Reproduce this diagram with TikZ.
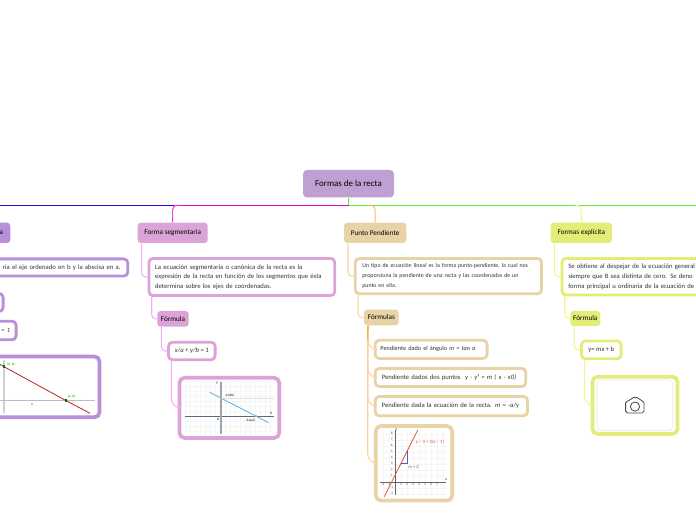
\documentclass[tikz,border=0pt]{standalone}
\usepackage{fontspec}
\usetikzlibrary{calc}
\setmainfont{Carlito}
\definecolor{cTop}{HTML}{BEA0D2}
\definecolor{cPur}{HTML}{B88FD8}
\definecolor{cPink}{HTML}{DBA3D8}
\definecolor{cTan}{HTML}{E8D3A6}
\definecolor{cLime}{HTML}{E4EC78}
\definecolor{lPink}{HTML}{F6ACFA}
\definecolor{lTan}{HTML}{FFD296}
\definecolor{lLime}{HTML}{EFF88C}
\definecolor{ink}{HTML}{333333}
\definecolor{busBlue}{HTML}{2A0ADC}
\definecolor{busMag}{HTML}{E400D8}
\definecolor{busGreen}{HTML}{5FF028}
\definecolor{oTrunk}{HTML}{FFB040}
\definecolor{oLink}{HTML}{FFB85C}
\definecolor{mLink}{HTML}{F040F0}
\definecolor{gridC}{HTML}{F5F5F5}
\definecolor{axH}{HTML}{5A6A80}
\definecolor{axV}{HTML}{9AA5B0}
\definecolor{skyL}{HTML}{4DB4EA}
\definecolor{ptO}{HTML}{F0B84A}
\definecolor{redL}{HTML}{E8553F}
\definecolor{bluT}{HTML}{4A5FC0}
\definecolor{camC}{HTML}{4A4A4A}
\newcommand{\bxg}[7]{%
 \pgfmathsetmacro\cx{(#2+#4)/2}\pgfmathsetmacro\cy{(#3+#5)/2}%
 \pgfmathsetmacro\wpt{(#4-#2)*0.75}\pgfmathsetmacro\hpt{(#5-#3)*0.75}%
 \node[#6,minimum width=\wpt pt,minimum height=\hpt pt] (#1) at (\cx,\cy) {#7};}
\tikzset{
 x=0.75pt,y=-0.75pt,
 head/.style={fill=#1,rounded corners=2.4pt,text=black,inner sep=0pt,font=\fontsize{5.4}{6.5}\selectfont,align=center},
 tbox/.style={draw=#1,line width=2.1pt,rounded corners=3pt,fill=white,text=ink,inner sep=0pt,font=\fontsize{5}{7.3}\selectfont,align=center},
 picbox/.style={draw=#1,line width=2.8pt,rounded corners=4pt,fill=white,inner sep=0pt},
 link/.style={line width=.8pt,color=#1,rounded corners=3pt},
 biglink/.style={line width=.8pt,color=#1,rounded corners=7pt},
 tinylab/.style={font=\fontsize{2.6}{3}\selectfont,inner sep=0pt},
 fromshift/.style={xshift=3.2pt},
}
\begin{document}
\begin{tikzpicture}
\useasboundingbox (0,0) rectangle (696,520);
% root and bus
\bxg{root}{303}{170}{394}{197.5}{head=cTop,rounded corners=3pt,font=\fontsize{6.7}{8}\selectfont}{Formas de la recta}
\coordinate (busL) at (0,205.4);
\coordinate (busP) at (174,205.4);
\coordinate (busM) at (348.5,205.4);
\coordinate (busO) at (372,205.4);
\coordinate (busG) at (578,205.4);
\coordinate (busR) at (696,205.4);
\draw[line width=.7pt,busBlue] (busL) -- (busP);
\draw[line width=.7pt,busMag] (busP) -- (busM);
\draw[line width=.7pt,busGreen] (busM) -- (busR);
\draw[line width=1pt,busGreen] (root.south) -- (busM);
% heads
\bxg{h1}{-40}{222.7}{10.3}{243}{head=cPur,text width=26.8pt,align=right}{a}
\bxg{h2}{137.7}{222.7}{207.7}{243}{head=cPink}{Forma segmentaria}
\bxg{h3}{344}{222.7}{406.3}{243}{head=cTan}{Punto Pendiente}
\bxg{h4}{550.7}{222.7}{612}{243}{head=cLime}{Formas explícita}
\draw[link=mLink] (busP) -- ++(-1.3,0) -- (h2.north);
\draw[link=oLink] (busO) -- ++(3,0) -- (h3.north);
\draw[link=lLime] (busG) -- ++(3,0) -- (h4.north);
% column 1 (runs off the left edge)
\bxg{t1}{-100}{258.9}{127.8}{276.1}{tbox=cPur,text width=160pt,align=right}{ria el eje ordenado en b y la abscisa en a.}
\bxg{f1a}{-40}{293.5}{3.1}{311.5}{tbox=cPur}{}
\bxg{f1b}{-40}{321.2}{16.1}{339.8}{tbox=cPur,text width=33pt,align=right,font=\fontsize{4.8}{6}\itshape}{= 1}
\bxg{p1}{-60}{356.4}{99.6}{417.3}{picbox=cPur}{}
\coordinate (p1a) at (4,366.7);
\coordinate (p1b) at (66,400.6);
\draw[black!18,line width=.9pt] (4,360) -- (4,413);
\draw[black!25,line width=.5pt] (0,400.4) -- (95,400.4);
\foreach \tx in {11,18,25,32,39,46,53,60,73,80,87}{\draw[black!30,line width=.2pt] (\tx,399.6) -- (\tx,401.2);}
\draw[red!65!black!85,line width=.6pt] (0,364.4) -- (p1a) -- (p1b) -- (90,413.3);
\fill[green!45!black] ($(p1a)+(-1.3,-1.3)$) rectangle ($(p1a)+(1.3,1.3)$);
\fill[green!45!black] ($(p1b)+(-1.3,-1.3)$) rectangle ($(p1b)+(1.3,1.3)$);
\node[tinylab,text=green!55!black] (lb1) at (11,364.7) {(0, b)};
\node[tinylab,text=green!55!black] (lb2) at (71.5,396.3) {(a, 0)};
\node[tinylab,text=red!70!black] (lb3) at (32,405) {a};
% column 2
\bxg{t2}{148.9}{258.5}{334.8}{295.5}{tbox=cPink,text width=130pt,align=left}{La ecuación segmentaria o canónica de la recta es la\\expresión de la recta en función de los segmentos que ésta\\determina sobre los ejes de coordenadas.}
\bxg{s2}{157.3}{311}{188.7}{326.7}{head=cPink}{Fórmula}
\bxg{f2}{168.5}{342.2}{215.1}{359.8}{tbox=cPink,font=\fontsize{5}{6}\itshape}{x/a + y/b = 1}
\bxg{p2}{179.4}{377.7}{279.3}{438}{picbox=cPink}{}
\draw[link=lPink] ([fromshift]h2.south west) |- (t2.west);
\draw[link=lPink] ([fromshift]t2.south west) |- (s2.west);
\draw[link=lPink] ([fromshift]s2.south west) |- (f2.west);
\draw[biglink=lPink] ([fromshift]f2.south west) |- (p2.west);
% picture in column 2
\foreach \gx in {185,190,...,270}{\draw[gridC,line width=.2pt] (\gx,381) -- (\gx,435);}
\foreach \gy in {381,386,...,431}{\draw[gridC,line width=.2pt] (185,\gy) -- (274,\gy);}
\draw[black!12,line width=.3pt] (221,398) -- (274,398);
\draw[axH,line width=.6pt] (184.7,416.3) -- (274,416.3);
\draw[axV,line width=1pt] (221,381.7) -- (221,434.3);
\draw[skyL,line width=.6pt] (209.7,392.3) -- (268.7,422.7);
\fill[ptO] (221,398) circle (1.3);
\fill[ptO] (256,416.3) circle (1.3);
\node[tinylab] (p2y) at (217,383.3) {\itshape Y};
\node[tinylab] (p2x) at (271,413) {\itshape X};
\node[tinylab] (p2o) at (218,419) {\itshape O};
\node[tinylab] (p2a) at (230,395.5) {\itshape A(0,b)};
\node[tinylab] (p2b) at (251,420) {\itshape A(a,0)};
% column 3
\bxg{t3}{355.2}{258.5}{541.5}{293.8}{tbox=cTan,text width=129pt,align=left,font=\fontsize{4.4}{7.3}\selectfont}{Un tipo de ecuación lineal es la forma punto-pendiente, la cual nos\\proporciona la pendiente de una recta y las coordenadas de un\\punto en ella.}
\bxg{s3}{364}{309.7}{398.7}{325.3}{head=cTan}{Fórmulas}
\bxg{f3a}{375.2}{340.2}{487.1}{358.5}{tbox=cTan,text width=76pt,align=left,font=\fontsize{4.7}{6}\selectfont}{Pendiente dado el ángulo \textit{m = tan α}}
\bxg{f3b}{375.2}{368.5}{525.8}{386.5}{tbox=cTan,text width=103pt,align=left}{Pendiente dados dos puntos \ \textit{y - y¹ = m ( x - x0)}}
\bxg{f3c}{375.2}{396.5}{527.5}{415.8}{tbox=cTan,text width=104.5pt,align=left}{Pendiente dada la ecuación de la recta. \textit{m = -a/y}}
\bxg{p3}{375.7}{426}{452.3}{500.6}{picbox=cTan}{}
\draw[link=lTan] ([fromshift]h3.south west) |- (t3.west);
\draw[link=lTan] ([fromshift]t3.south west) |- (s3.west);
\coordinate (trunk) at ($(s3.south west)+(4,18)$);
\draw[line width=1.2pt,oTrunk] ([fromshift]s3.south west) -- (trunk);
\draw[biglink=lTan] (trunk) |- (f3a.west);
\draw[biglink=lTan] (trunk) |- (f3b.west);
\draw[biglink=lTan] (trunk) |- (f3c.west);
\draw[biglink=lTan] (trunk) |- (p3.west);
% picture in column 3
\foreach \k in {-2,-1,...,8}{\draw[gridC,line width=.25pt] (383,481.7-6*\k) -- (446,481.7-6*\k);}
\foreach \k in {-2,-1,...,8}{\draw[gridC,line width=.25pt] (395+6*\k,432) -- (395+6*\k,495);}
\draw[black!60,line width=.3pt] (380,481.7) -- (446,481.7);
\draw[black!60,line width=.3pt] (395,495) -- (395,430);
\foreach \k in {-2,-1,1,2,3,4,5,6,7}{\node[tinylab,text=black!70] at (395+6*\k,484.5) {\k};}
\foreach \k in {-2,-1,1,2,3,4,5,6,7,8}{\node[tinylab,text=black!70] at (391.7,481.7-6*\k) {\k};}
\node[tinylab] (p3x) at (446,479.5) {x};
\node[tinylab] (p3y) at (396.5,430) {y};
\draw[redL,line width=.6pt] (384.3,496.7) -- (417.7,430);
\draw[bluT,line width=.6pt] (401,463.3) -- (407.7,463.3) -- (407.7,450.7);
\node[tinylab,text=bluT,font=\fontsize{3.4}{4}\selectfont] (p3m) at (413.5,466.7) {m = 2};
\node[tinylab,text=redL,font=\fontsize{3.6}{4}\selectfont] (p3e) at (430,442) {y − 3 = 2(x − 1)};
% column 4
\bxg{t4}{561.9}{258.5}{780}{295.1}{tbox=cLime,text width=154pt,align=left}{Se obtiene al despejar de la ecuación general\\siempre que B sea distinta de cero. Se deno\\forma principal u ordinaria de la ecuación de l}
\bxg{s4}{570.3}{311}{600.3}{326}{head=cLime}{Fórmula}
\bxg{f4}{581.5}{340.9}{621.1}{358.8}{tbox=cLime}{y= mx + b}
\bxg{p4}{592.4}{376.7}{677.6}{434}{picbox=cLime}{}
\draw[link=lLime] ([fromshift]h4.south west) |- (t4.west);
\draw[link=lLime] ([fromshift]t4.south west) |- (s4.west);
\draw[link=lLime] ([fromshift]s4.south west) |- (f4.west);
\draw[biglink=lLime] ([fromshift]f4.south west) |- (p4.west);
\draw[black!8,line width=.5pt,rounded corners=3pt] (597,380) rectangle (672.7,430.7);
\draw[camC,line width=.6pt,rounded corners=1.4pt] (625.6,401) -- (630,401) -- (631.5,397.6) -- (639,397.6) -- (640.5,401) -- (644,401) -- (644,413) -- (625.6,413) -- cycle;
\draw[camC,line width=.6pt] (635,406.6) circle (4.6);
\end{tikzpicture}
\end{document}
